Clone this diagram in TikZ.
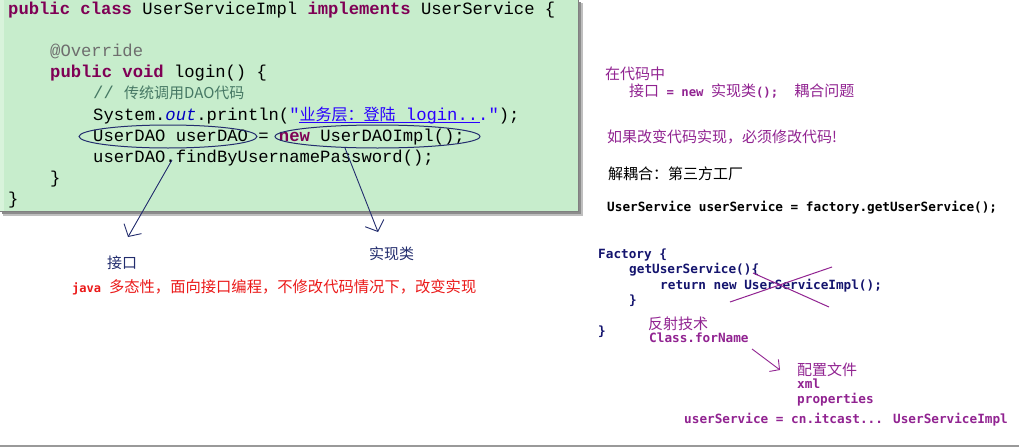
\documentclass[tikz,border=0pt]{standalone}
\usepackage{fontspec}
\usetikzlibrary{arrows.meta,shapes.geometric}
\newfontfamily\cour{Liberation Mono}
\newfontfamily\cjk{Noto Sans CJK SC}
\newfontfamily\dmono{DejaVu Sans Mono}
\definecolor{codebg}{RGB}{199,237,204}
\definecolor{kwc}{RGB}{127,0,85}
\definecolor{anno}{RGB}{110,110,110}
\definecolor{cmt}{RGB}{70,120,100}
\definecolor{strc}{RGB}{42,0,255}
\definecolor{fld}{RGB}{0,0,192}
\definecolor{navy}{RGB}{35,45,110}
\definecolor{purp}{RGB}{145,35,145}
\definecolor{redt}{RGB}{235,25,25}
\definecolor{fac}{RGB}{20,20,110}
\newcommand\kwd[1]{{\color{kwc}\bfseries #1}}
\newcommand\cj[1]{{\cjk\fontsize{15}{18}\selectfont #1}}
\newcommand\dm[1]{{\dmono\bfseries\fontsize{12.3}{15}\selectfont #1}}
\begin{document}
\begin{tikzpicture}[x=1pt,y=-1pt,
  code/.style={anchor=base west, inner sep=0, font=\cour\fontsize{17.2}{20}\selectfont, text=black},
  cjkt/.style={anchor=base west, inner sep=0, font=\cjk\fontsize{15}{18}\selectfont},
  monot/.style={anchor=base west, inner sep=0, font=\dmono\bfseries\fontsize{12.7}{15}\selectfont},
  ring/.style={ellipse, draw=navy, line width=1, inner sep=0},
  pointer/.style={navy, line width=0.9, -{Straight Barb[length=9pt,width=20pt]}},
  cross/.style={purp, line width=1}
]
\useasboundingbox (0,0) rectangle (1019,447);
\fill[white] (0,0) rectangle (1019,447);
% code panel with shadow
\fill[black!25] (3,3) rectangle (583,216);
\fill[black!45] (2,2) rectangle (581,214);
\fill[codebg] (0,0) rectangle (578,211);
\fill[codebg!70!white] (0,0) rectangle (4,211);
\draw[black!50, line width=1.2] (578.6,0) -- (578.6,211.6) -- (0,211.6);
% code lines
\node[code] (l1) at (8,14) {\kwd{public class} UserServiceImpl \kwd{implements} UserService \{};
\node[code, text=anno] (l3) at (50,56.4) {@Override};
\node[code] (l4) at (50,77.6) {\kwd{public void} login() \{};
\node[code, text=cmt] (l5) at (93,98.8) {// {\cjk\fontsize{15}{15}\selectfont 传统调用DAO代码}};
\node[code] (l6) at (93,120) {System.{\color{fld}\itshape out}.println({\color{strc}"{\cjk\fontsize{16}{16}\selectfont 业务层：登陆} login..."});};
\draw[strc, line width=0.7] (299,122.5) -- (480,122.5);
\node[code] (l7) at (93,141.2) {UserDAO userDAO = \kwd{new} UserDAOImpl();};
\node[code] (l8) at (93,162.4) {userDAO.findByUsernamePassword();};
\node[code] (l9) at (50,183.6) {\}};
\node[code] (l10) at (8,204.8) {\}};
% ellipses
\node[ring, minimum width=178, minimum height=23] (e1) at (168,136.5) {};
\node[ring, minimum width=205, minimum height=23] (e2) at (377.5,136.5) {};
% pointers
\coordinate (a1s) at (172,160);
\coordinate (a1e) at (128,237);
\coordinate (a2s) at (345,148);
\coordinate (a2e) at (378,232);
\draw[pointer] (a1s) -- (a1e);
\draw[pointer] (a2s) -- (a2e);
% labels below
\node[cjkt, text=navy] (jk) at (107,268) {接口};
\node[cjkt, text=navy] (sxl) at (369,259) {实现类};
\node[anchor=base west, inner sep=0, text=redt] (poly) at (72,292) {{\dmono\bfseries\fontsize{12}{14}\selectfont java}\hspace{8pt}{\cjk\fontsize{15.3}{18}\selectfont 多态性，面向接口编程，不修改代码情况下，改变实现}};
% right side
\node[cjkt, text=purp] (r1) at (605,79) {在代码中};
\node[anchor=base west, inner sep=0, text=purp] (r2) at (629,96) {\cj{接口}\dm{\ =\ new\ }\cj{实现类}\dm{();}\hspace{16pt}\cj{耦合问题}};
\node[cjkt, text=purp] (r3) at (607,142) {如果改变代码实现，必须修改代码!};
\node[cjkt, text=black] (r4) at (608,179) {解耦合：第三方工厂};
\node[monot, text=black] (r5) at (607,211) {UserService userService = factory.getUserService();};
\node[monot, text=fac] (f1) at (598,258) {Factory \{};
\node[monot, text=fac] (f2) at (629,273) {getUserService()\{};
\node[monot, text=fac] (f3) at (660,289) {return new UserServiceImpl();};
\node[monot, text=fac] (f4) at (629,304) {\}};
\node[monot, text=fac] (f5) at (598,335) {\}};
\coordinate (x1a) at (730,302);
\coordinate (x1b) at (832,267);
\coordinate (x2a) at (753,273);
\coordinate (x2b) at (829,307);
\draw[cross] (x1a) -- (x1b);
\draw[cross] (x2a) -- (x2b);
\node[cjkt, text=purp] (fs) at (648,329.5) {反射技术};
\node[monot, text=purp] (cf) at (649,342) {Class.forName};
\coordinate (a3s) at (752,349);
\coordinate (a3e) at (780,370);
\draw[purp, line width=0.9, -{Straight Barb[length=7pt,width=15pt]}] (a3s) -- (a3e);
\node[cjkt, text=purp] (pz) at (797,375) {配置文件};
\node[monot, text=purp] (xml) at (797,388) {xml};
\node[monot, text=purp] (prop) at (797,403) {properties};
\node[monot, text=purp] (us) at (684,423) {userService = cn.itcast... UserServiceImpl};
% bottom rule
\draw[black!40, line width=1.5] (0,446) -- (1019,446);
\end{tikzpicture}
\end{document}
